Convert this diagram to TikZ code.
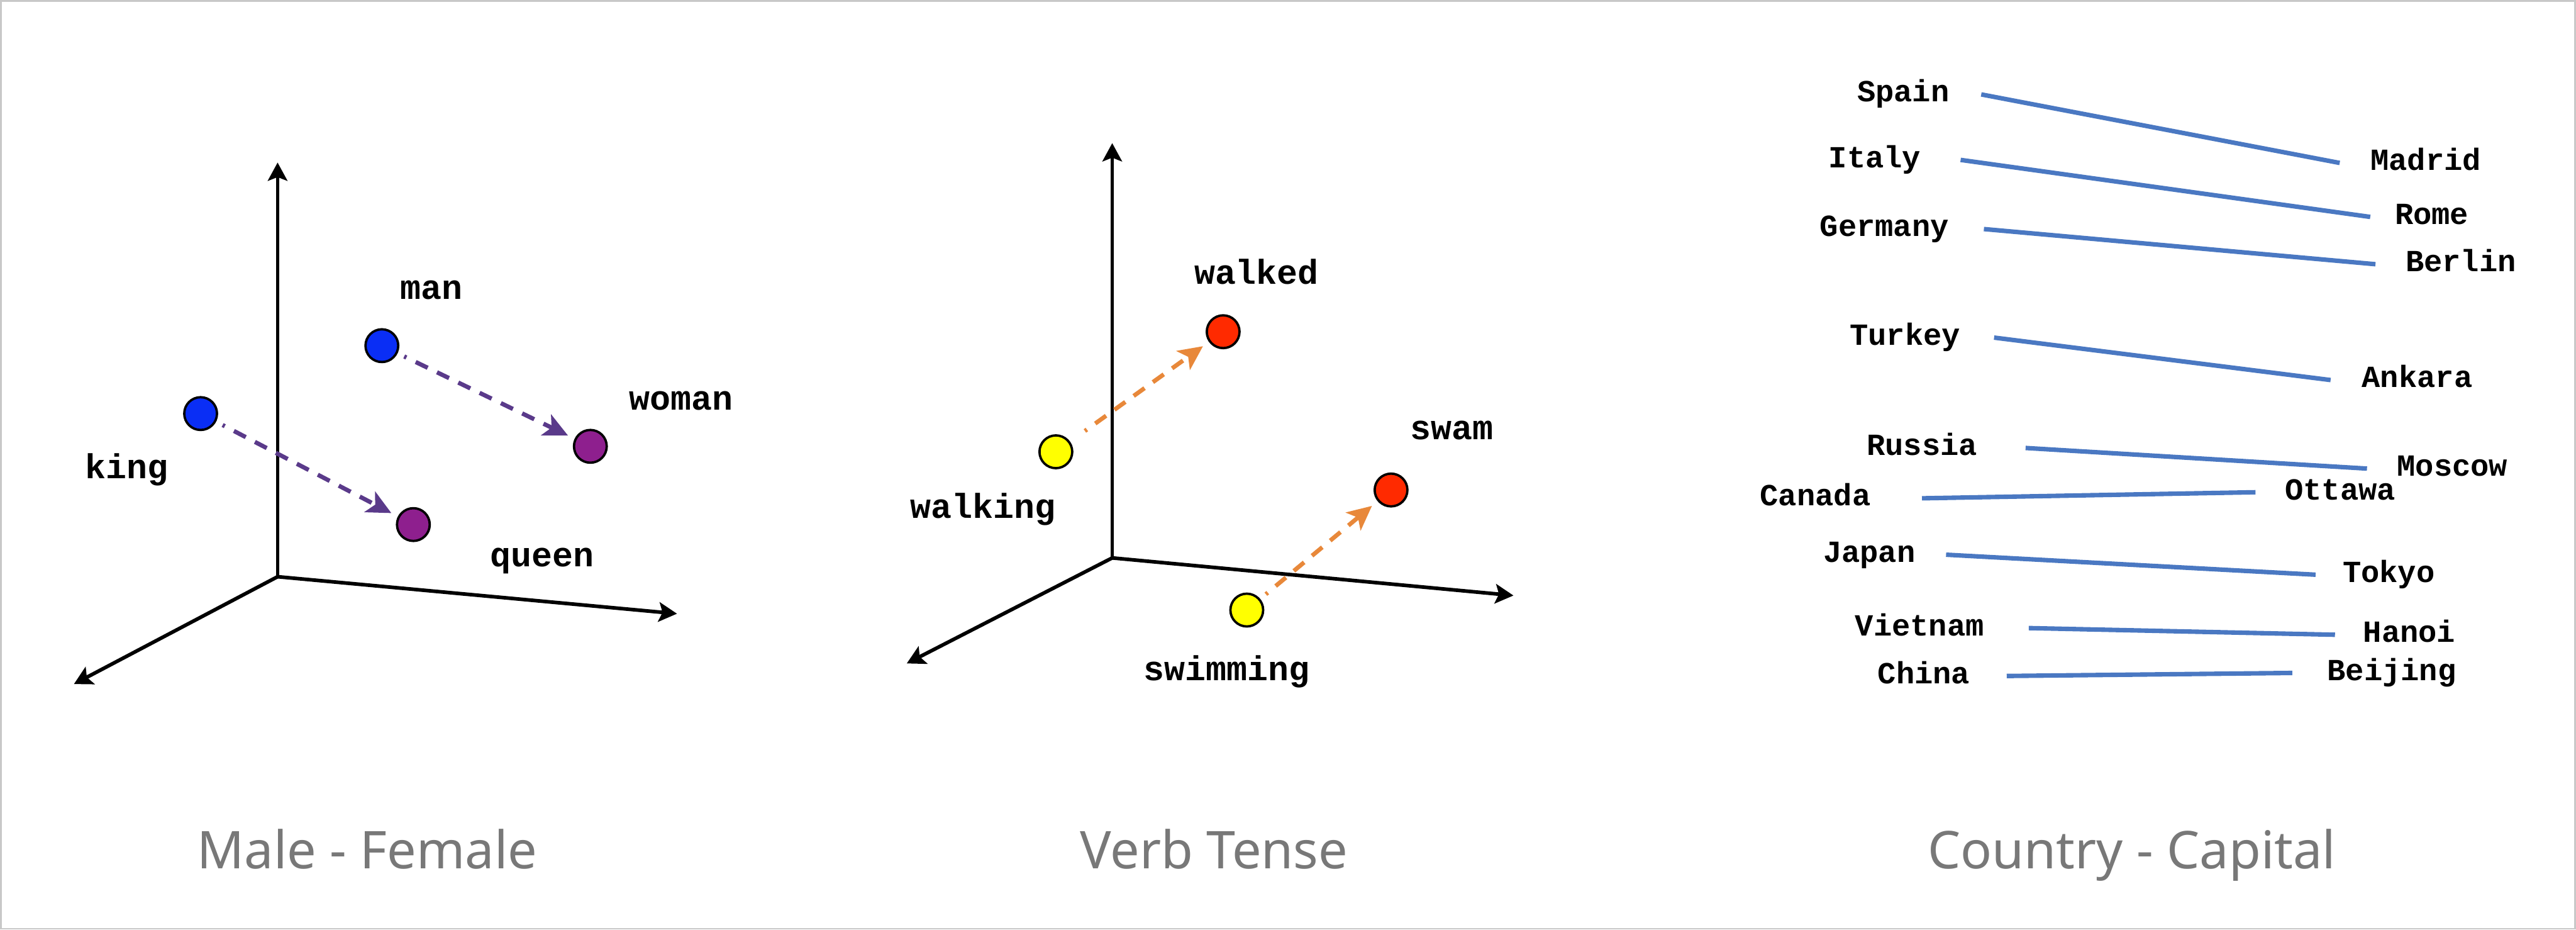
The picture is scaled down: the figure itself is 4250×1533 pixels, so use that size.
\documentclass[tikz,border=0pt]{standalone}
\usepackage{fontspec}
\setmainfont{Noto Sans}
\newfontfamily\monof{Liberation Mono}
\usetikzlibrary{arrows.meta}
\definecolor{dotblue}{HTML}{0A2EF5}
\definecolor{dotpurple}{HTML}{8E1F8E}
\definecolor{arrpurple}{HTML}{5A3A8A}
\definecolor{dotred}{HTML}{FF2A00}
\definecolor{dotyellow}{HTML}{FFFF00}
\definecolor{arrorange}{HTML}{E8883A}
\definecolor{capblue}{HTML}{4A78C2}
\definecolor{captgray}{HTML}{787878}
\definecolor{framegray}{HTML}{C8C8C8}
\begin{document}
\begin{tikzpicture}[x=0.01cm,y=-0.01cm,
  axis/.style={line width=1.7pt, -{Stealth[length=0.30cm,width=0.32cm,inset=0.06cm]}},
  dotnode/.style={circle, draw=black, line width=1.1pt, minimum size=0.54cm, inner sep=0pt},
  word/.style={font=\monof\bfseries\fontsize{16.2pt}{18pt}\selectfont, anchor=base, inner sep=0pt},
  cword/.style={font=\monof\bfseries\fontsize{14.4pt}{16pt}\selectfont, anchor=base, inner sep=0pt, text height=0.75em, text depth=0.05em},
  shiftarrow/.style={line width=2pt, dash pattern=on 0.22cm off 0.17cm, dash phase=0.18cm, -{Stealth[length=0.40cm,width=0.38cm,inset=0.1cm]}, shorten >=0.12cm, shorten <=0.12cm},
  capline/.style={capblue, line width=2.1pt},
  caption/.style={font=\fontsize{24.4pt}{28pt}\selectfont, text=captgray, anchor=base, inner sep=0pt}
]
\useasboundingbox (0,0) rectangle (4250,1533);
\fill[white] (0,0) rectangle (4250,1533);
\draw[framegray, line width=0.85pt] (1.5,1.5) rectangle (4248.5,1531.5);

% ---------- Panel 1 ----------
\coordinate (o1) at (458,951);
\coordinate (y1) at (458,268);
\coordinate (x1) at (1117,1012);
\coordinate (z1) at (122,1128);
\draw[axis] (o1) -- (y1);
\draw[axis] (o1) -- (x1);
\draw[axis] (o1) -- (z1);
\node[dotnode, fill=dotblue] (man) at (630,570) {};
\node[dotnode, fill=dotblue] (king) at (331,682) {};
\node[dotnode, fill=dotpurple] (woman) at (974,736) {};
\node[dotnode, fill=dotpurple] (queen) at (682,865) {};
\draw[shiftarrow, arrpurple] (man) -- (woman);
\draw[shiftarrow, arrpurple] (king) -- (queen);
\node[word] (lman) at (712,493) {man};
\node[word] (lwoman) at (1124,676) {woman};
\node[word] (lking) at (209,789) {king};
\node[word] (lqueen) at (894,934) {queen};

% ---------- Panel 2 ----------
\coordinate (o2) at (1835,920);
\coordinate (y2) at (1835,236);
\coordinate (x2) at (2497,982);
\coordinate (z2) at (1496,1094);
\draw[axis] (o2) -- (y2);
\draw[axis] (o2) -- (x2);
\draw[axis] (o2) -- (z2);
\node[dotnode, fill=dotred] (walked) at (2018,547) {};
\node[dotnode, fill=dotyellow] (walking) at (1742,745) {};
\node[dotnode, fill=dotred] (swam) at (2295,808) {};
\node[dotnode, fill=dotyellow] (swimming) at (2057,1006) {};
\draw[shiftarrow, arrorange, shorten <=0.3cm] (walking) -- (walked);
\draw[shiftarrow, arrorange] (swimming) -- (swam);
\node[word] (lwalked) at (2073,468) {walked};
\node[word] (lswam) at (2395,725) {swam};
\node[word] (lwalking) at (1622,854) {walking};
\node[word] (lswimming) at (2024,1122) {swimming};

% ---------- Panel 3 ----------
\node[cword] (spain) at (3140,168) {Spain};
\node[cword] (madrid) at (4002,281) {Madrid};
\node[cword] (italy) at (3093,276) {Italy};
\node[cword] (rome) at (4012,370) {Rome};
\node[cword] (germany) at (3109,390) {Germany};
\node[cword] (berlin) at (4060,448) {Berlin};
\node[cword] (turkey) at (3143,569) {Turkey};
\node[cword] (ankara) at (3988,639) {Ankara};
\node[cword] (russia) at (3171,751) {Russia};
\node[cword] (moscow) at (4046,785) {Moscow};
\node[cword] (canada) at (2995,834) {Canada};
\node[cword] (ottawa) at (3861,824) {Ottawa};
\node[cword] (japan) at (3084,927) {Japan};
\node[cword] (tokyo) at (3941,960) {Tokyo};
\node[cword] (vietnam) at (3167,1048) {Vietnam};
\node[cword] (hanoi) at (3975,1059) {Hanoi};
\node[cword] (china) at (3174,1127) {China};
\node[cword] (beijing) at (3946,1122) {Beijing};
\draw[capline] ([xshift=0.52cm]spain.east) -- ([xshift=-0.50cm]madrid.west);
\draw[capline] ([xshift=0.65cm]italy.east) -- ([xshift=-0.40cm]rome.west);
\draw[capline] ([xshift=0.57cm]germany.east) -- ([xshift=-0.49cm]berlin.west);
\draw[capline] ([xshift=0.55cm]turkey.east) -- ([xshift=-0.51cm]ankara.west);
\draw[capline] ([xshift=0.79cm]russia.east) -- ([xshift=-0.49cm]moscow.west);
\draw[capline] ([xshift=0.84cm]canada.east) -- ([xshift=-0.48cm]ottawa.west);
\draw[capline] ([xshift=0.50cm]japan.east) -- ([xshift=-0.44cm]tokyo.west);
\draw[capline] ([xshift=0.73cm]vietnam.east) -- ([xshift=-0.46cm]hanoi.west);
\draw[capline] ([xshift=0.60cm]china.east) -- ([xshift=-0.57cm]beijing.west);

% ---------- Captions ----------
\node[caption] (cap1) at (606,1432) {Male - Female};
\node[caption] (cap2) at (2003,1432) {Verb Tense};
\node[caption] (cap3) at (3517,1432) {Country - Capital};
\end{tikzpicture}
\end{document}
